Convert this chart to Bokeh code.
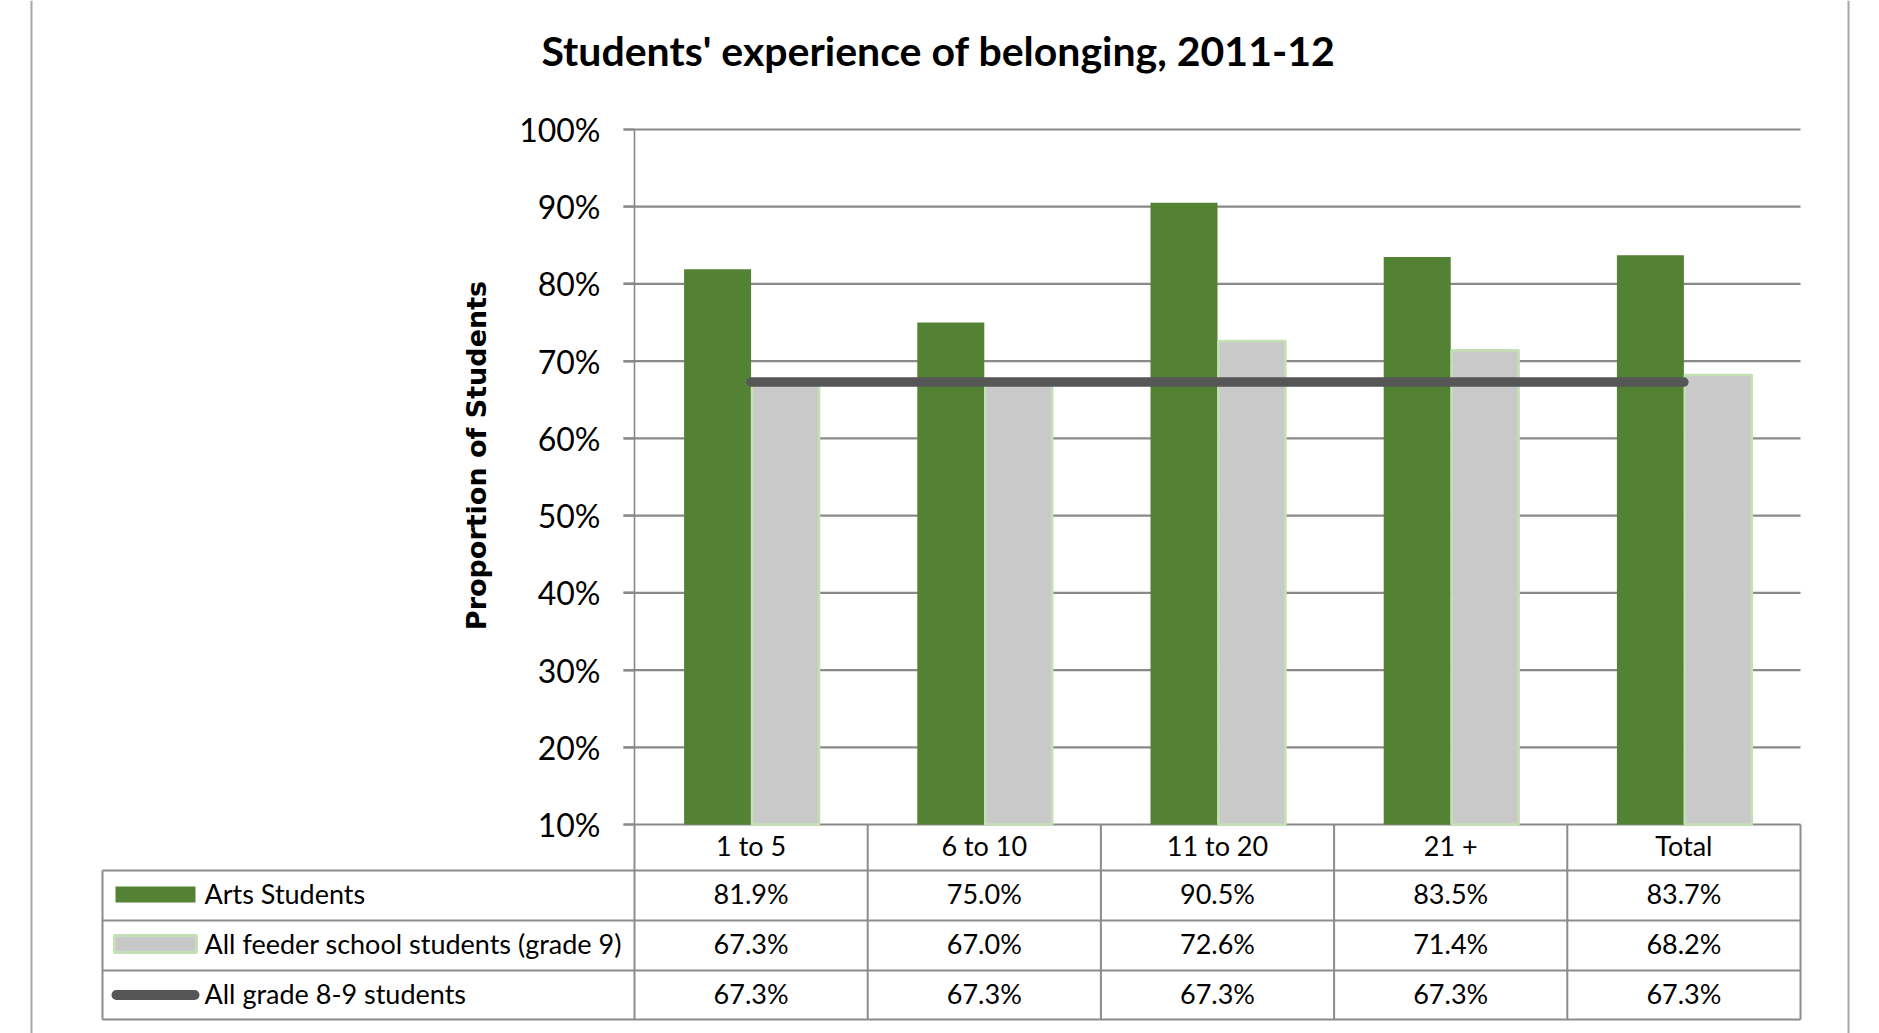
import math
from bokeh.plotting import figure
from bokeh.models import Range1d, LinearAxis, FixedTicker, NumeralTickFormatter
from bokeh.core.properties import value
from bokeh.embed import file_html
from bokeh.resources import INLINE

# ---------------- data ----------------
categories = ["1 to 5", "6 to 10", "11 to 20", "21 +", "Total"]
arts = [0.819, 0.750, 0.905, 0.835, 0.837]
feeder = [0.673, 0.670, 0.726, 0.714, 0.682]
grade89 = [0.673, 0.673, 0.673, 0.673, 0.673]
series_names = ["Arts Students", "All feeder school students (grade 9)", "All grade 8-9 students"]
y_ticks = [0.1, 0.2, 0.3, 0.4, 0.5, 0.6, 0.7, 0.8, 0.9, 1.0]
title_text = "Students' experience of belonging, 2011-12"
y_title = "Proportion of Students"

# ---------------- layout constants (pixels) ----------------
W, H = 1879, 1033
PL, PR, PT, PB = 634, 1800, 129, 824     # plot area
YMIN, YMAX = 0.1, 1.0
n = len(categories)
cw = (PR - PL) / n                         # px per category
ku = (PB - PT) / (YMAX - YMIN)             # px per unit of y

def xd(px):
    return (px - PL) / cw

def yd(py):
    return YMIN + (PB - py) / ku

FONT = "Lato"
GRID = "#898989"
GREEN = "#548235"
GRAY = "#c9c9c9"
GRAY_EDGE = "#c5e0b4"
LINE = "#565656"

p = figure(width=W, height=H, output_backend="svg", toolbar_location=None,
           x_range=Range1d(xd(0), xd(W)), y_range=Range1d(yd(H), yd(0)),
           x_axis_location=None, y_axis_location=None,
           min_border=0, min_border_left=0, min_border_right=0,
           min_border_top=0, min_border_bottom=0)
p.outline_line_color = None
p.xgrid.visible = False
p.ygrid.visible = False
p.background_fill_color = "white"
p.border_fill_color = "white"

# page frame lines
p.segment(x0=[xd(31), xd(1848)], x1=[xd(31), xd(1848)], y0=yd(H), y1=yd(0),
          line_color="#a6a6a6", line_width=2)

# gridlines
p.segment(x0=xd(PL - 11), x1=xd(PR), y0=y_ticks, y1=y_ticks,
          line_color=GRID, line_width=2.2)

# y axis
ax = LinearAxis(fixed_location=0, bounds=(YMIN, YMAX),
                ticker=FixedTicker(ticks=y_ticks),
                formatter=NumeralTickFormatter(format="0%"))
ax.axis_line_color = GRID
ax.axis_line_width = 1.6
ax.major_tick_line_color = GRID
ax.major_tick_line_width = 2
ax.major_tick_out = 11
ax.major_tick_in = 0
ax.minor_tick_line_color = None
ax.major_label_standoff = 23
ax.major_label_text_font = FONT
ax.major_label_text_font_size = "32px"
ax.major_label_text_color = "black"
p.add_layout(ax, "left")

# bars
xc = [i + 0.5 for i in range(n)]
bw = 67 / cw
p.vbar(x=[c - bw / 2 for c in xc], width=bw, bottom=YMIN, top=arts,
       fill_color=GREEN, line_color=None)
p.vbar(x=[c + bw / 2 + 0.004 for c in xc], width=bw, bottom=YMIN, top=feeder,
       fill_color=GRAY, line_color=GRAY_EDGE, line_width=2.5)

# average line
p.line(x=xc, y=grade89, line_color=LINE, line_width=9.5, line_cap="round")

# ---------------- data table ----------------
TBL_L = 102
row_edges = [PB, 870, 920, 970, 1019]
tbl_line = "#8c8c8c"
# horizontal lines
p.segment(x0=xd(TBL_L), x1=xd(PR), y0=[yd(r) for r in row_edges[1:]],
          y1=[yd(r) for r in row_edges[1:]], line_color=tbl_line, line_width=2)
# vertical lines in category columns
p.segment(x0=list(range(n + 1)), x1=list(range(n + 1)), y0=yd(row_edges[0]),
          y1=yd(row_edges[-1]), line_color=tbl_line, line_width=2)
# left edge of legend column
p.segment(x0=[xd(TBL_L)], x1=[xd(TBL_L)], y0=yd(row_edges[1]), y1=yd(row_edges[-1]),
          line_color=tbl_line, line_width=2)

# text centre of each row (slightly above geometric centre)
row_mid = [yd((row_edges[i] + row_edges[i + 1]) / 2 - 2) for i in range(4)]
key_mid = [yd((row_edges[i] + row_edges[i + 1]) / 2) for i in range(4)]

# headers
p.text(x=xc, y=row_mid[0], text=categories, text_font=value(FONT),
       text_font_size="27px", text_align="center", text_baseline="middle",
       text_color="black")
for r, vals in zip(row_mid[1:], [arts, feeder, grade89]):
    p.text(x=xc, y=r, text=[f"{v*100:.1f}%" for v in vals], text_font=value(FONT),
           text_font_size="27px", text_align="center", text_baseline="middle",
           text_color="black")

# legend keys
p.quad(left=xd(115), right=xd(195), top=yd(886), bottom=yd(902),
       fill_color=GREEN, line_color=None)
p.quad(left=xd(114), right=xd(196), top=yd(935), bottom=yd(952),
       fill_color=GRAY, line_color=GRAY_EDGE, line_width=3)
p.line(x=[xd(116), xd(194)], y=[key_mid[3], key_mid[3]], line_color=LINE,
       line_width=10, line_cap="round")
p.text(x=xd(204), y=row_mid[1:], text=series_names, text_font=value(FONT),
       text_font_size="27px", text_align="left", text_baseline="middle",
       text_color="black")

# title
p.text(x=[xd(938)], y=[yd(50)], text=[title_text], text_font=value(FONT),
       text_font_size="41px", text_font_style="bold", text_align="center",
       text_baseline="middle", text_color="black")

# y axis title
p.text(x=[xd(476)], y=[yd(455)], text=[y_title], text_font=value("DejaVu Sans"),
       text_font_size="27px", text_font_style="bold", text_align="center",
       text_baseline="middle", angle=math.pi / 2, text_color="black")

open("out.html", "w").write(file_html(p, INLINE))
